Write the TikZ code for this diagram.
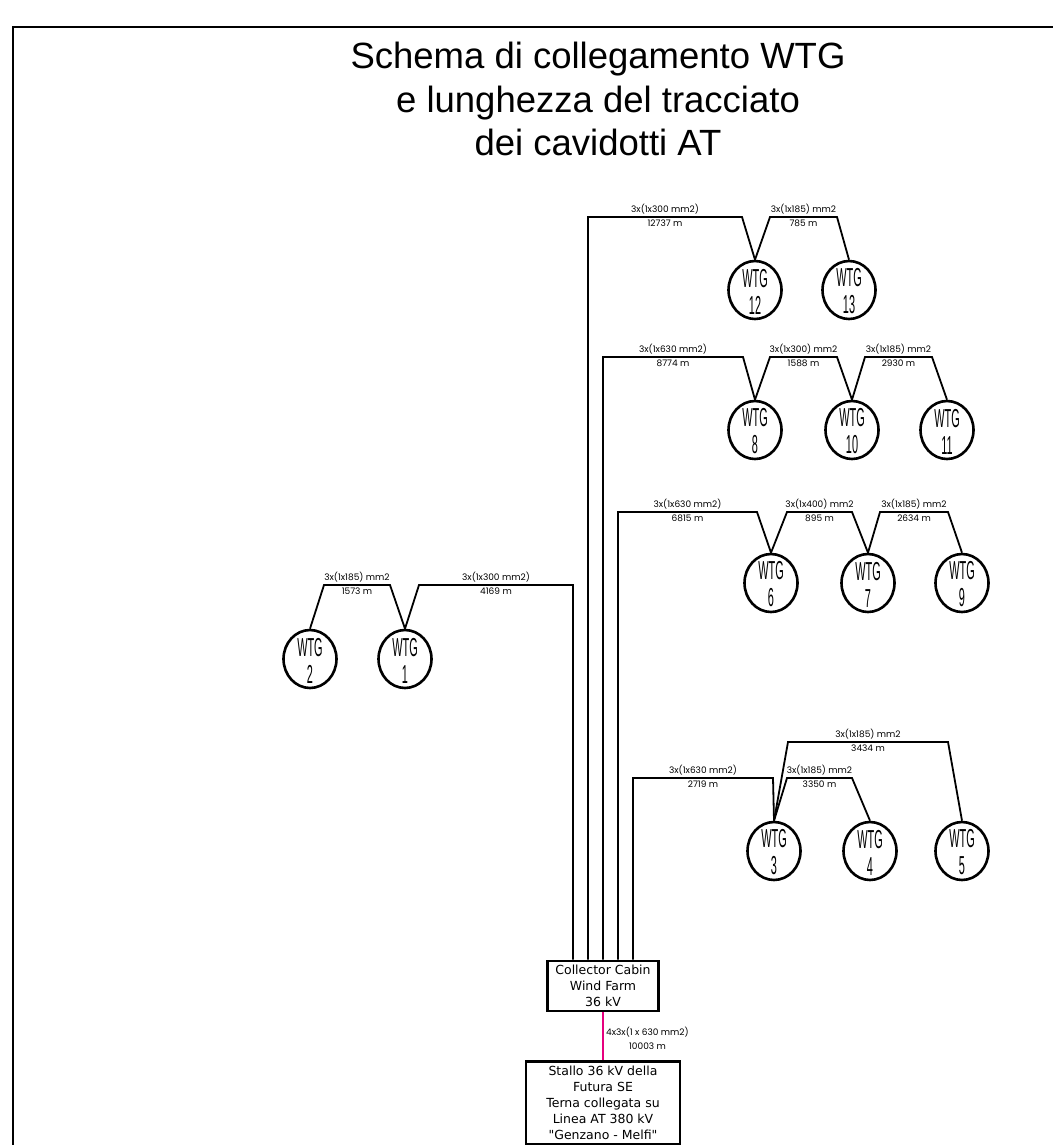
\documentclass[tikz,border=0pt]{standalone}
\usepackage{fontspec}
\newfontfamily\titlefam{Liberation Sans}
\newfontfamily\wtgfam[FakeStretch=0.42]{Liberation Sans}
\newfontfamily\boxfam{DejaVu Sans}
\newfontfamily\lblfam{Poppins}
\usetikzlibrary{shapes.geometric, positioning}

\definecolor{feedpink}{RGB}{230,0,126}

\begin{document}
\begin{tikzpicture}[x=1pt, y=-1pt,
    title/.style={align=center, inner sep=0pt, font=\titlefam\fontsize{36.5}{43.5}\selectfont},
    wtg/.style={ellipse, draw, line width=2.6pt, minimum width=53pt, minimum height=58pt, inner xsep=0pt, inner ysep=-14pt,
        align=center, font=\wtgfam\fontsize{26}{27}\selectfont, execute at begin node={\rule{0pt}{48pt}}},
    cabin/.style={rectangle, draw, line width=2.6pt, inner sep=0pt, align=center, font=\boxfam\fontsize{12.5}{16}\selectfont},
    cable/.style={line width=1.8pt},
    feeder/.style={line width=1.8pt, draw=feedpink},
    lbl/.style={font=\lblfam\fontsize{9}{14}\selectfont, inner sep=2.3pt},
    frame/.style={line width=1.5pt}
]
\useasboundingbox (0,0) rectangle (1052,1145);

% Frame and title
\draw[frame] (13,1146) -- (13,27) -- (1053,27);
\node[title] (title) at (598,99) {Schema di collegamento WTG\\e lunghezza del tracciato\\dei cavidotti AT};

% Cabins
\node[cabin, minimum width=111pt, minimum height=50pt] (cabin) at (603,986) {Collector Cabin\\Wind Farm\\36 kV};
\node[cabin, minimum width=154pt, minimum height=83pt] (se) at (603,1103) {Stallo 36 kV della\\Futura SE\\Terna collegata su\\Linea AT 380 kV\\"Genzano - Melfi"};

% Wind turbines
\node[wtg] (w12) at (755,290) {WTG\\12};
\node[wtg] (w13) at (849,290) {WTG\\13};
\node[wtg] (w8) at (755,430) {WTG\\8};
\node[wtg] (w10) at (852,430) {WTG\\10};
\node[wtg] (w11) at (947,430) {WTG\\11};
\node[wtg] (w6) at (771,583) {WTG\\6};
\node[wtg] (w7) at (868,583) {WTG\\7};
\node[wtg] (w9) at (962,583) {WTG\\9};
\node[wtg] (w2) at (310,659) {WTG\\2};
\node[wtg] (w1) at (405,659) {WTG\\1};
\node[wtg] (w3) at (774,851) {WTG\\3};
\node[wtg] (w4) at (870,851) {WTG\\4};
\node[wtg] (w5) at (962,851) {WTG\\5};

% Trunk corners
\coordinate (k1) at (573,585);
\coordinate (k2) at (588,217);
\coordinate (k3) at (603,357);
\coordinate (k4) at (618,512);
\coordinate (k5) at (633,778);

% WTG 12-13
\draw[cable] (cabin.north -| k2) -- (k2) -- node[lbl, above] {3x(1x300 mm2)} node[lbl, below] {12737 m} (742,217) -- (w12.north);
\draw[cable] (w12.north) -- (770,217) -- node[lbl, above] {3x(1x185) mm2} node[lbl, below] {785 m} (837,217) -- (w13.north);

% WTG 8-10-11
\draw[cable] (cabin.north -| k3) -- (k3) -- node[lbl, above] {3x(1x630 mm2)} node[lbl, below] {8774 m} (743,357) -- (w8.north);
\draw[cable] (w8.north) -- (770,357) -- node[lbl, above] {3x(1x300) mm2} node[lbl, below] {1588 m} (837,357) -- (w10.north);
\draw[cable] (w10.north) -- (865,357) -- node[lbl, above] {3x(1x185) mm2} node[lbl, below] {2930 m} (932,357) -- (w11.north);

% WTG 6-7-9
\draw[cable] (cabin.north -| k4) -- (k4) -- node[lbl, above] {3x(1x630 mm2)} node[lbl, below] {6815 m} (757,512) -- (w6.north);
\draw[cable] (w6.north) -- (787,512) -- node[lbl, above] {3x(1x400) mm2} node[lbl, below] {895 m} (852,512) -- (w7.north);
\draw[cable] (w7.north) -- (880,512) -- node[lbl, above] {3x(1x185) mm2} node[lbl, below] {2634 m} (948,512) -- (w9.north);

% WTG 1-2
\draw[cable] (cabin.north -| k1) -- (k1) -- node[lbl, above] {3x(1x300 mm2)} node[lbl, below] {4169 m} (419,585) -- (w1.north);
\draw[cable] (w1.north) -- (390,585) -- node[lbl, above] {3x(1x185) mm2} node[lbl, below] {1573 m} (324,585) -- (w2.north);

% WTG 3-4-5
\draw[cable] (cabin.north -| k5) -- (k5) -- node[lbl, above] {3x(1x630 mm2)} node[lbl, below] {2719 m} (773,778) -- (w3.north);
\draw[cable] (w3.north) -- (787,778) -- node[lbl, above] {3x(1x185) mm2} node[lbl, below] {3350 m} (852,778) -- (w4.north);
\draw[cable] (w3.north) -- (788,742) -- node[lbl, above] {3x(1x185) mm2} node[lbl, below] {3434 m} (948,742) -- (w5.north);

% Link to substation
\draw[feeder] (cabin.south) -- node[lbl, right, align=center, pos=0.55] {4x3x(1 x 630 mm2)\\10003 m} (se.north);

\end{tikzpicture}
\end{document}
